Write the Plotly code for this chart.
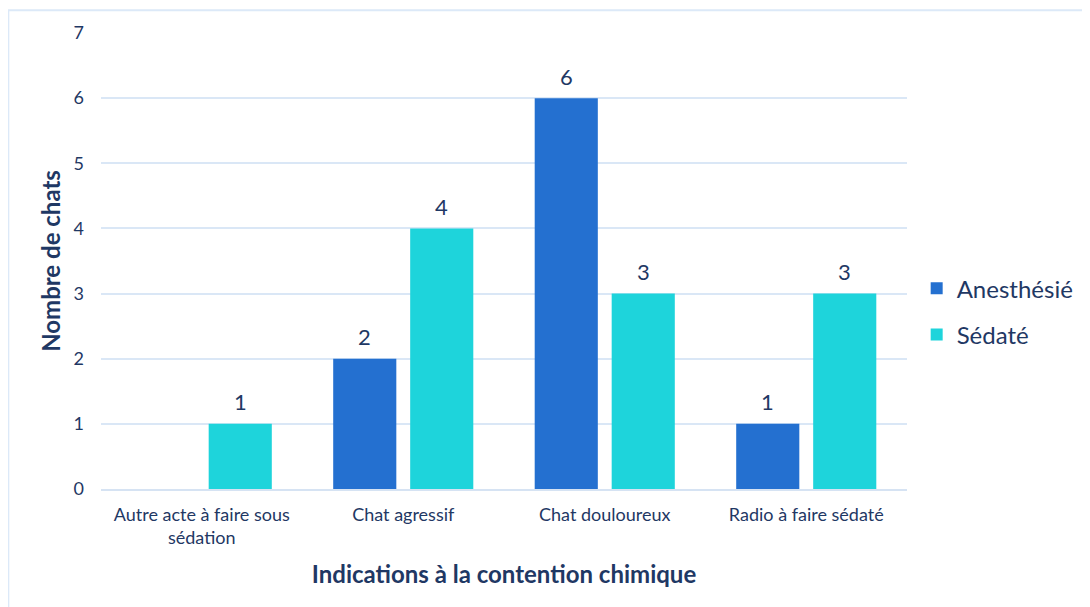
import plotly.graph_objects as go

categories = ["Autre acte à faire sous<br>sédation", "Chat agressif", "Chat douloureux", "Radio à faire sédaté"]
anesthesie = [0, 2, 6, 1]
sedate = [1, 4, 3, 3]
anes_labels = ["", "2", "6", "1"]
sed_labels = ["1", "4", "3", "3"]
y_ticks = [0, 1, 2, 3, 4, 5, 6, 7]

navy = "#1F3864"
font_family = "Lato, 'Open Sans', sans-serif"

fig = go.Figure()
fig.add_trace(go.Bar(
    x=categories, y=anesthesie, name="Anesthésié",
    marker=dict(color="#2470D0", line=dict(width=0)),
    legendgroup="a",
))
fig.add_trace(go.Bar(
    x=categories, y=sedate, name="Sédaté",
    marker=dict(color="#1ED4DB", line=dict(width=0)),
    legendgroup="b",
))

# value labels as annotations above each bar
annotations = []
for series, labels, shift in ((anesthesie, anes_labels, -38.5), (sedate, sed_labels, 38.5)):
    for cat, val, lab in zip(categories, series, labels):
        if lab:
            annotations.append(dict(x=cat, y=val, xref="x", yref="y", text=lab,
                                    showarrow=False, xshift=shift, yshift=22,
                                    font=dict(size=22, color=navy, family=font_family)))

fig.update_layout(
    width=1090, height=607,
    margin=dict(l=93, r=191, t=25, b=126, autoexpand=False),
    paper_bgcolor="white", plot_bgcolor="white",
    barmode="group", bargap=0.236, bargroupgap=0.18,
    font=dict(family=font_family, color=navy, size=18),
    showlegend=True,
    legend=dict(x=1.012, y=0.389, xanchor="left", yanchor="middle",
                font=dict(size=24, color=navy, family=font_family),
                tracegroupgap=12, itemwidth=30),
    xaxis=dict(
        title=dict(text="<b>Indications à la contention chimique</b>",
                   font=dict(size=24, color=navy), standoff=19),
        tickfont=dict(size=18, color=navy),
        showline=True, linecolor="#D6E3F3", linewidth=2,
        ticks="", showgrid=False, ticklabelstandoff=8,
    ),
    yaxis=dict(
        title=dict(text="<b>Nombre de chats</b>", font=dict(size=24, color=navy), standoff=6),
        range=[0, 7], tickvals=y_ticks,
        tickfont=dict(size=18, color=navy),
        gridcolor="#DAE7F6", gridwidth=2,
        zeroline=False, showline=False, ticks="", ticklabelstandoff=16,
    ),
    annotations=annotations,
    shapes=[dict(type="rect", xref="paper", yref="paper",
                 x0=-0.115, x1=1.3, y0=-0.4, y1=1.05,
                 line=dict(color="#DCE9F8", width=2), fillcolor="rgba(0,0,0,0)", layer="below")],
)

fig.write_html("out.html")
